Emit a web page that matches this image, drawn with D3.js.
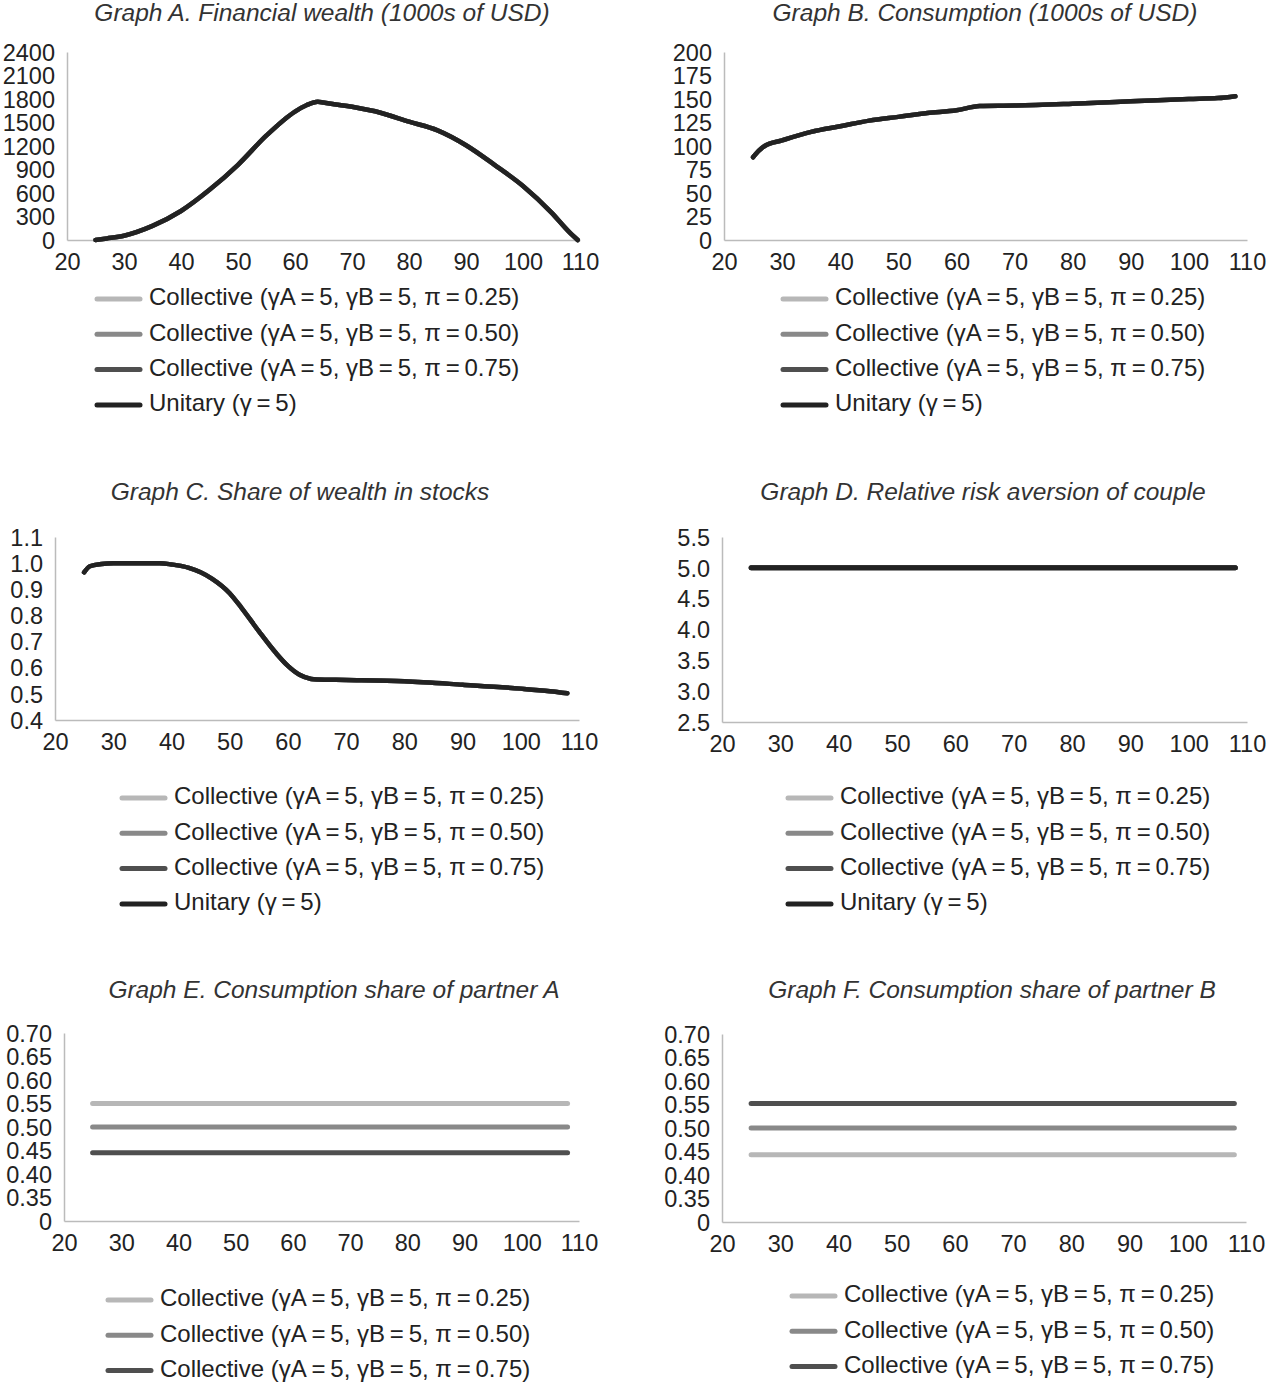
<!DOCTYPE html>
<html>
<head>
<meta charset="utf-8">
<script src="https://cdn.jsdelivr.net/npm/d3@7"></script>
<style>
  body { margin: 0; background: #fff; }
  svg { font-family: "Liberation Sans", Arial, sans-serif; }
  .tick-label { font-size: 23.5px; fill: #222; }
  .title { font-size: 24.5px; font-style: italic; fill: #333; }
  .legend text { font-size: 24px; fill: #222; }
</style>
</head>
<body>
<div id="chart"></div>
<script>
const ageTicks = [20, 30, 40, 50, 60, 70, 80, 90, 100, 110];

const seriesNames = [
  "Collective (\u03b3A\u2009=\u20095, \u03b3B\u2009=\u20095, \u03c0\u2009=\u20090.25)",
  "Collective (\u03b3A\u2009=\u20095, \u03b3B\u2009=\u20095, \u03c0\u2009=\u20090.50)",
  "Collective (\u03b3A\u2009=\u20095, \u03b3B\u2009=\u20095, \u03c0\u2009=\u20090.75)",
  "Unitary (\u03b3\u2009=\u20095)"
];
const seriesColors = ["#b7b7b7", "#898989", "#4f4f4f", "#222"];

// Graph A: financial wealth, same path for every household type
const wealthAges   = [25, 27, 30, 35, 40, 45, 50, 55, 60, 62, 64, 65, 70, 75, 80, 85, 90, 95, 100, 105, 108, 109.6];
const wealthValues = [0, 20, 55, 180, 370, 640, 960, 1335, 1640, 1720, 1765, 1755, 1700, 1625, 1510, 1400, 1210, 960, 690, 350, 110, 0];
const wealthTicks  = [0, 300, 600, 900, 1200, 1500, 1800, 2100, 2400];

// Graph B: consumption
const consAges   = [25, 26, 27, 30, 35, 40, 45, 50, 55, 60, 64, 70, 80, 90, 100, 105, 108];
const consValues = [88, 95, 100, 106, 115, 121, 127, 131, 135, 138, 142.5, 143, 145, 147.5, 150, 151, 153];
const consTicks  = [0, 25, 50, 75, 100, 125, 150, 175, 200];

// Graph C: share of wealth in stocks
const stockAges   = [25, 26, 28, 30, 38, 40, 43, 45, 47, 50, 52, 55, 58, 60, 62, 64, 65, 70, 80, 90, 100, 105, 108];
const stockValues = [0.965, 0.988, 0.997, 1.0, 1.0, 0.995, 0.982, 0.965, 0.94, 0.885, 0.83, 0.74, 0.655, 0.607, 0.573, 0.557, 0.555, 0.553, 0.548, 0.535, 0.52, 0.51, 0.502];
const stockTicks  = [0.4, 0.5, 0.6, 0.7, 0.8, 0.9, 1.0, 1.1];

// Graph D: relative risk aversion of couple
const flatAges = [25, 108];
const riskAversion = [5.0, 5.0];
const raTicks = [2.5, 3.0, 3.5, 4.0, 4.5, 5.0, 5.5];

// Graphs E and F: consumption shares (pi = 0.25, 0.50, 0.75)
const shareA = [0.55, 0.50, 0.445];
const shareB = [0.443, 0.50, 0.552];
const shareTicks = [0.30, 0.35, 0.40, 0.45, 0.50, 0.55, 0.60, 0.65, 0.70];
const shareTickLabels = ["0", "0.35", "0.40", "0.45", "0.50", "0.55", "0.60", "0.65", "0.70"];

const svg = d3.select("#chart")
  .append("svg")
  .attr("width", 1271)
  .attr("height", 1383);

function zip(ages, values) {
  return ages.map((a, i) => ({ age: a, v: values[i] }));
}

function drawPanel(p) {
  const x = d3.scaleLinear().domain([20, 110]).range([p.x0, p.x1]);
  const y = d3.scaleLinear().domain(p.yDomain).range([p.yBottom, p.yTop]);
  const g = svg.append("g");

  g.append("text")
    .attr("class", "title")
    .attr("x", p.titleX)
    .attr("y", p.titleY)
    .attr("text-anchor", "middle")
    .attr("dominant-baseline", "middle")
    .text(p.title);

  // y axis
  const yAxis = g.append("g")
    .attr("transform", `translate(${p.x0},0)`)
    .call(d3.axisLeft(y).tickValues(p.yTicks).tickSize(0).tickPadding(12).tickFormat(p.yFormat));
  yAxis.select(".domain").attr("stroke", "#bbb").attr("stroke-width", 1.5);
  yAxis.selectAll("text").attr("class", "tick-label").attr("dy", "0.35em");

  // x axis
  const xAxis = g.append("g")
    .attr("transform", `translate(0,${p.yBottom})`)
    .call(d3.axisBottom(x).tickValues(ageTicks).tickSize(0).tickPadding(13).tickFormat(d3.format("d")));
  xAxis.select(".domain").attr("stroke", "#bbb").attr("stroke-width", 1.5);
  xAxis.selectAll("text").attr("class", "tick-label");
  g.selectAll(".tick-label").attr("font-family", null).attr("font-size", null).attr("fill", null);

  const line = d3.line()
    .x(d => x(d.age))
    .y(d => y(d.v))
    .curve(d3.curveMonotoneX);

  g.selectAll(".series")
    .data(p.series)
    .enter()
    .append("path")
    .attr("fill", "none")
    .attr("stroke", d => seriesColors[d.idx])
    .attr("stroke-width", p.lineWidth)
    .attr("stroke-linecap", "round")
    .attr("stroke-linejoin", "round")
    .attr("d", d => line(d.values));

  const legend = g.selectAll(".legend")
    .data(p.legendItems)
    .enter()
    .append("g")
    .attr("class", "legend")
    .attr("transform", (d, i) => `translate(0,${p.legendY + i * 35.3})`);

  legend.append("line")
    .attr("x1", p.legendX)
    .attr("x2", p.legendX + 43)
    .attr("stroke", d => seriesColors[d])
    .attr("stroke-width", 5)
    .attr("stroke-linecap", "round");

  legend.append("text")
    .attr("x", p.legendX + 52)
    .attr("dominant-baseline", "middle")
    .text(d => seriesNames[d]);
}

const allFour = [0, 1, 2, 3];
const sameFor = (ages, values) => allFour.map(i => ({ idx: i, values: zip(ages, values) }));

drawPanel({
  title: "Graph A. Financial wealth (1000s of USD)", titleX: 322, titleY: 15,
  x0: 67, x1: 580, yBottom: 240, yTop: 52, yDomain: [0, 2400],
  yTicks: wealthTicks, yFormat: d3.format("d"),
  series: sameFor(wealthAges, wealthValues), lineWidth: 4.5,
  legendItems: allFour, legendX: 97, legendY: 299
});

drawPanel({
  title: "Graph B. Consumption (1000s of USD)", titleX: 985, titleY: 15,
  x0: 724, x1: 1247, yBottom: 240, yTop: 52, yDomain: [0, 200],
  yTicks: consTicks, yFormat: d3.format("d"),
  series: sameFor(consAges, consValues), lineWidth: 4.5,
  legendItems: allFour, legendX: 783, legendY: 299
});

drawPanel({
  title: "Graph C. Share of wealth in stocks", titleX: 300, titleY: 494,
  x0: 55, x1: 579, yBottom: 720, yTop: 537, yDomain: [0.4, 1.1],
  yTicks: stockTicks, yFormat: d3.format(".1f"),
  series: sameFor(stockAges, stockValues), lineWidth: 4.5,
  legendItems: allFour, legendX: 122, legendY: 798
});

drawPanel({
  title: "Graph D. Relative risk aversion of couple", titleX: 983, titleY: 494,
  x0: 722, x1: 1247, yBottom: 722, yTop: 537, yDomain: [2.5, 5.5],
  yTicks: raTicks, yFormat: d3.format(".1f"),
  series: sameFor(flatAges, riskAversion), lineWidth: 5,
  legendItems: allFour, legendX: 788, legendY: 798
});

drawPanel({
  title: "Graph E. Consumption share of partner A", titleX: 334, titleY: 992,
  x0: 64, x1: 579, yBottom: 1221, yTop: 1033, yDomain: [0.30, 0.70],
  yTicks: shareTicks, yFormat: (d, i) => shareTickLabels[i],
  series: shareA.map((s, i) => ({ idx: i, values: zip(flatAges, [s, s]) })), lineWidth: 5,
  legendItems: [0, 1, 2], legendX: 108, legendY: 1300
});

drawPanel({
  title: "Graph F. Consumption share of partner B", titleX: 992, titleY: 992,
  x0: 722, x1: 1246, yBottom: 1222, yTop: 1034, yDomain: [0.30, 0.70],
  yTicks: shareTicks, yFormat: (d, i) => shareTickLabels[i],
  series: shareB.map((s, i) => ({ idx: i, values: zip(flatAges, [s, s]) })), lineWidth: 5,
  legendItems: [0, 1, 2], legendX: 792, legendY: 1296
});
</script>
</body>
</html>
